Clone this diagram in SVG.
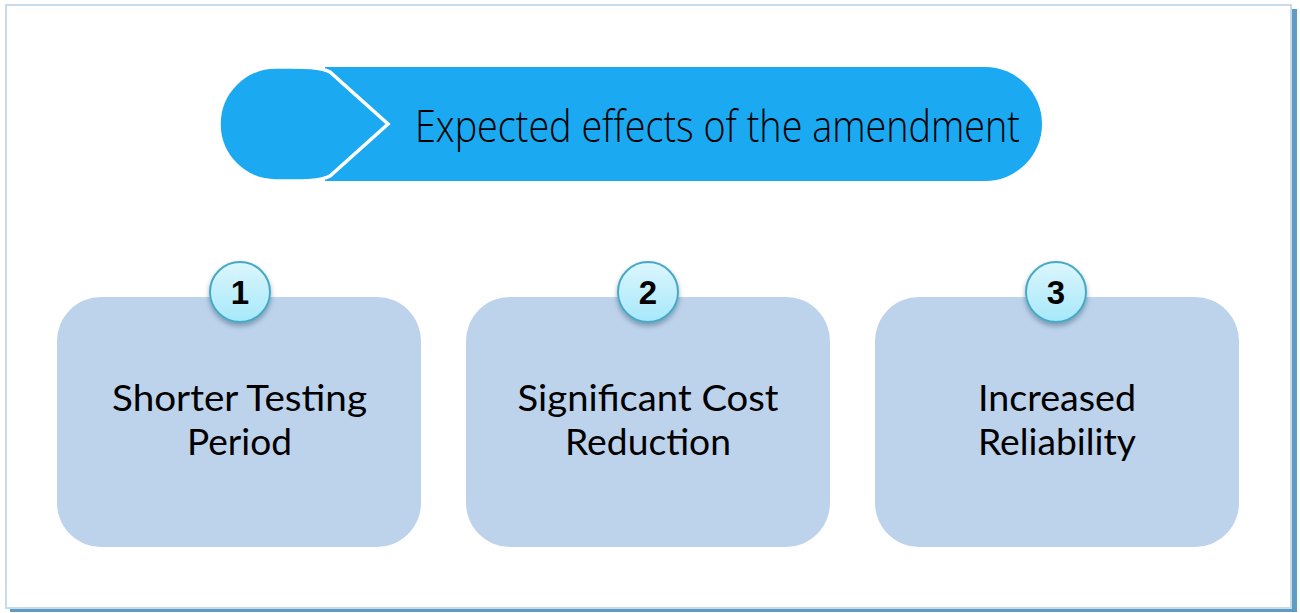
<svg xmlns="http://www.w3.org/2000/svg" width="1300" height="613" viewBox="0 0 1300 613">
  <defs>
    <linearGradient id="badgeFill" x1="0" y1="0" x2="0" y2="1">
      <stop offset="0" stop-color="#dcf6fd"/>
      <stop offset="1" stop-color="#a6e8fb"/>
    </linearGradient>
    <filter id="badgeShadow" x="-40%" y="-40%" width="180%" height="190%">
      <feDropShadow dx="0" dy="3" stdDeviation="2.5" flood-color="#1f3a55" flood-opacity="0.4"/>
    </filter>
  </defs>
  <style>
    .card { fill: #bdd3ec; }
    .badge { fill: url(#badgeFill); stroke: #47a9c4; stroke-width: 2; filter: url(#badgeShadow); }
    .num { font-family: "Liberation Sans", Arial, sans-serif; font-weight: bold; font-size: 33px; fill: #000; text-anchor: middle; }
    .label { font-family: Lato, "Open Sans", sans-serif; font-weight: 400; font-size: 36px; fill: #000; text-anchor: middle; }
    .title { font-family: "Open Sans", "Noto Sans", sans-serif; font-weight: 300; font-size: 44px; fill: #000; }
  </style>

  <!-- page frame with offset shadow -->
  <rect x="10" y="9" width="1287" height="603" fill="#5e9cc4"/>
  <rect x="6" y="5" width="1285" height="603" fill="#ffffff" stroke="#c6dcea" stroke-width="2"/>

  <!-- heading banner -->
  <g id="header">
    <path d="M 325 67 L 985 67 A 57 57 0 0 1 985 181 L 325 181 Z" fill="#1ba9f1"/>
    <path d="M 276 67 C 300 67 318 66 330 72 L 388 124 L 330 176 C 318 182 300 181 276 181 A 57 57 0 0 1 276 67 Z" fill="#1ba9f1" stroke="#ffffff" stroke-width="3.5" stroke-linejoin="miter"/>
    <text class="title" x="415" y="142" textLength="605" lengthAdjust="spacingAndGlyphs">Expected effects of the amendment</text>
  </g>

  <!-- effect 1 -->
  <g id="effect-1">
    <rect class="card" x="57" y="297" width="364" height="250" rx="44"/>
    <text class="label" x="239.5" y="411" textLength="255" lengthAdjust="spacingAndGlyphs">Shorter Testing</text>
    <text class="label" x="239.5" y="455" textLength="105" lengthAdjust="spacingAndGlyphs">Period</text>
    <circle class="badge" cx="240" cy="292" r="30"/>
    <text class="num" x="240" y="304">1</text>
  </g>

  <!-- effect 2 -->
  <g id="effect-2">
    <rect class="card" x="466" y="297" width="364" height="250" rx="44"/>
    <text class="label" x="648" y="411" textLength="261" lengthAdjust="spacingAndGlyphs">Significant Cost</text>
    <text class="label" x="648" y="455" textLength="166" lengthAdjust="spacingAndGlyphs">Reduction</text>
    <circle class="badge" cx="648" cy="292" r="30"/>
    <text class="num" x="648" y="304">2</text>
  </g>

  <!-- effect 3 -->
  <g id="effect-3">
    <rect class="card" x="875" y="297" width="364" height="250" rx="44"/>
    <text class="label" x="1057" y="411" textLength="158" lengthAdjust="spacingAndGlyphs">Increased</text>
    <text class="label" x="1057" y="455" textLength="158" lengthAdjust="spacingAndGlyphs">Reliability</text>
    <circle class="badge" cx="1056" cy="292" r="30"/>
    <text class="num" x="1056" y="304">3</text>
  </g>

  <!-- no connectors in this layout -->
  <g id="connectors"/>
</svg>
